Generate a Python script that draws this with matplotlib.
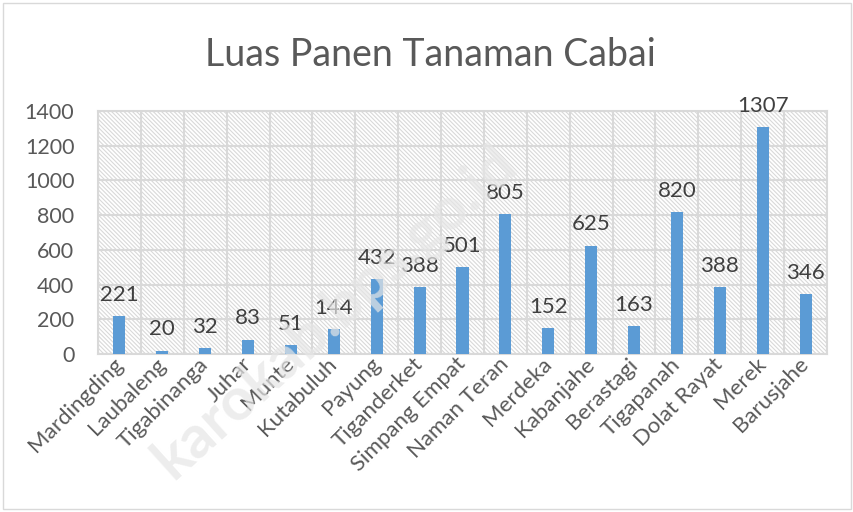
import numpy as np
import matplotlib.pyplot as plt
from matplotlib.patches import Rectangle

# ---------------- data ----------------
kecamatan = ['Mardingding', 'Laubaleng', 'Tigabinanga', 'Juhar', 'Munte', 'Kutabuluh',
             'Payung', 'Tiganderket', 'Simpang Empat', 'Naman Teran', 'Merdeka',
             'Kabanjahe', 'Berastagi', 'Tigapanah', 'Dolat Rayat', 'Merek', 'Barusjahe']
luas_panen = [221, 20, 32, 83, 51, 144, 432, 388, 501, 805, 152, 625, 163, 820, 388, 1307, 346]
y_ticks = [0, 200, 400, 600, 800, 1000, 1200, 1400]

plt.rcParams['font.family'] = ['Lato', 'DejaVu Sans']
plt.rcParams['hatch.color'] = '#d9d9d9'
plt.rcParams['hatch.linewidth'] = 0.8

grey = '#595959'
gridc = '#d9d9d9'

fig = plt.figure(figsize=(8.54, 5.12), dpi=100)
ax = fig.add_axes([98/854, 1 - 354/512, (827-98)/854, (354-111)/512])

x = np.arange(len(kecamatan))
ax.bar(x, luas_panen, width=0.28, color='#5B9BD5', zorder=3)
for xi, v in zip(x, luas_panen):
    ax.annotate(str(v), (xi, v), xytext=(0, 8), textcoords='offset points',
                ha='center', va='bottom', fontsize=16, color='#404040', zorder=4)

ax.set_xlim(-0.5, len(kecamatan) - 0.5)
ax.set_ylim(0, 1400)
ax.set_yticks(y_ticks)
ax.set_yticklabels([str(t) for t in y_ticks], fontsize=15.5, color=grey)
ax.set_xticks(x)
ax.set_xticklabels(kecamatan, rotation=45, ha='right', va='center', rotation_mode='anchor',
                   fontsize=16, color=grey)
ax.tick_params(axis='y', length=0, pad=17)
ax.tick_params(axis='x', length=0, pad=5)

# background hatch + grid
ax.patch.set_hatch('\\\\\\\\\\\\\\\\')
ax.patch.set_edgecolor('#d9d9d9')
ax.patch.set_linewidth(0)
for t in y_ticks:
    ax.axhline(t, color=gridc, lw=1.5, zorder=1)
for b in np.arange(-0.5, len(kecamatan), 1.0):
    ax.axvline(b, color=gridc, lw=1.5, zorder=1)
for s in ax.spines.values():
    s.set_color(gridc)
    s.set_linewidth(1.5)

fig.text(430/854, 1 - 55/512, 'Luas Panen Tanaman Cabai', ha='center', va='center',
         fontsize=27, color=grey)

# watermark
fig.text(335/854, 1 - 312/512, 'karokab.bps.go.id', ha='center', va='center',
         rotation=42, fontsize=43, fontweight='bold', color='#e6e6e6', alpha=0.7, zorder=0.5)

# chart border
fig.patches.append(Rectangle((3/854, 3/512), 848/854, 506/512, transform=fig.transFigure,
                             fill=False, edgecolor='#d9d9d9', lw=1))

fig.savefig('out.png', dpi=100)
